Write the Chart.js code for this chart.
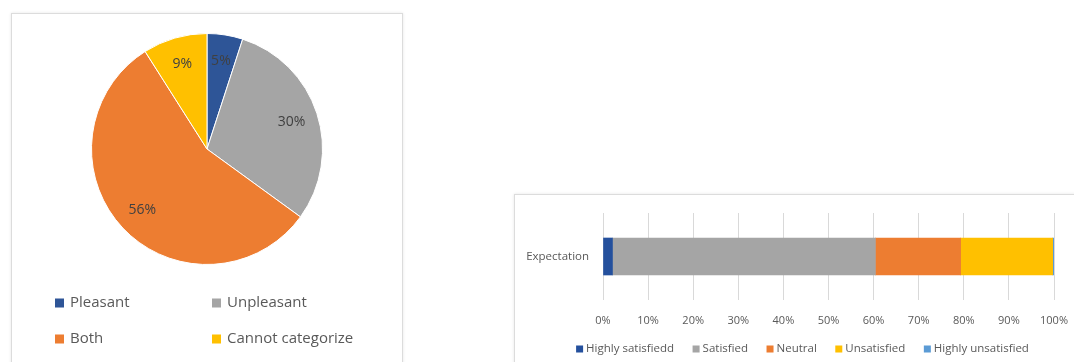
<!DOCTYPE html>
<html>
<head>
<meta charset="utf-8">
<script src="https://cdn.jsdelivr.net/npm/chart.js@4/dist/chart.umd.min.js"></script>
<style>
  html, body { margin: 0; padding: 0; background: #fff; overflow: hidden; width: 1074px; height: 362px; }
  .panel { position: absolute; background: #fff; border: 1px solid #dcdcdc; box-shadow: 0 0 3px rgba(0,0,0,0.10); }
  #pieBox { left: 11px; top: 13px; width: 390px; height: 360px; }
  #barBox { left: 514px; top: 194px; width: 600px; height: 200px; }
  canvas { position: absolute; }
</style>
</head>
<body>
<div class="panel" id="pieBox"></div>
<div class="panel" id="barBox"></div>
<canvas id="pie" width="390" height="348" style="left:12px;top:14px;width:390px;height:348px"></canvas>
<canvas id="bar" width="575" height="170" style="left:515px;top:195px;width:575px;height:170px"></canvas>
<script>
// Mood categories and their shares (%)
const moodLabels = ['Pleasant', 'Unpleasant', 'Both', 'Cannot categorize'];
const moodValues = [5, 30, 56, 9];
const moodColors = ['#2E5597', '#A5A5A5', '#ED7D31', '#FFC000'];

// Satisfaction versus expectation (%)
const rowLabels = ['Expectation'];
const highlySatisfied = [2.1];
const satisfied = [58.3];
const neutral = [18.9];
const unsatisfied = [20.4];
const highlyUnsatisfied = [0.3];
const xTicks = [0, 10, 20, 30, 40, 50, 60, 70, 80, 90, 100];

const FONT = '"Open Sans", "Noto Sans", sans-serif';
const TEXT = '#595959';

// Percentage labels placed inside each slice
const sliceLabels = {
  id: 'sliceLabels',
  afterDatasetsDraw(chart) {
    const ctx = chart.ctx;
    const meta = chart.getDatasetMeta(0);
    ctx.save();
    ctx.font = '14px ' + FONT;
    ctx.fillStyle = '#404040';
    ctx.textAlign = 'center';
    ctx.textBaseline = 'middle';
    meta.data.forEach((arc, i) => {
      const mid = (arc.startAngle + arc.endAngle) / 2;
      const r = arc.outerRadius * 0.77;
      ctx.fillText(chart.data.datasets[0].data[i] + '%', arc.x + Math.cos(mid) * r, arc.y + Math.sin(mid) * r);
    });
    ctx.restore();
  }
};

// Two-column legend under the pie
const gridLegend = {
  id: 'gridLegend',
  afterDraw(chart) {
    const ctx = chart.ctx;
    const labels = chart.data.labels;
    const colors = chart.data.datasets[0].backgroundColor;
    const colX = [43, 200];
    const rowY = [289, 325];
    ctx.save();
    ctx.font = '15px ' + FONT;
    ctx.textBaseline = 'middle';
    labels.forEach((lab, i) => {
      const x = colX[i % 2];
      const y = rowY[Math.floor(i / 2)];
      ctx.fillStyle = colors[i];
      ctx.fillRect(x, y - 4.5, 9, 9);
      ctx.fillStyle = TEXT;
      ctx.fillText(lab, x + 15, y);
    });
    ctx.restore();
  }
};

new Chart(document.getElementById('pie'), {
  type: 'pie',
  data: {
    labels: moodLabels,
    datasets: [{ data: moodValues, backgroundColor: moodColors, borderColor: '#ffffff', borderWidth: 1 }]
  },
  options: {
    responsive: false,
    animation: false,
    layout: { padding: { top: 19, bottom: 97 } },
    plugins: { legend: { display: false }, tooltip: { enabled: false } }
  },
  plugins: [sliceLabels, gridLegend]
});

const barSeries = [
  ['Highly satisfiedd', highlySatisfied, '#24509D'],
  ['Satisfied', satisfied, '#A5A5A5'],
  ['Neutral', neutral, '#ED7D31'],
  ['Unsatisfied', unsatisfied, '#FFC000'],
  ['Highly unsatisfied', highlyUnsatisfied, '#5B9BD5']
];

// Single-row legend below the axis: small square, tight gap, then the series name
const rowLegend = {
  id: 'rowLegend',
  afterDraw(chart) {
    const ctx = chart.ctx;
    const box = 7, gap = 3, spacing = 18.5;
    ctx.save();
    ctx.font = '11.5px ' + FONT;
    ctx.textBaseline = 'middle';
    const items = chart.data.datasets.map(ds => ({ text: ds.label, color: ds.backgroundColor, w: ctx.measureText(ds.label).width }));
    const total = items.reduce((s, it) => s + box + gap + it.w, 0) + spacing * (items.length - 1);
    let x = (chart.width - total) / 2;
    const y = 154;
    items.forEach(it => {
      ctx.fillStyle = it.color;
      ctx.fillRect(x, y - box / 2, box, box);
      ctx.fillStyle = TEXT;
      ctx.fillText(it.text, x + box + gap, y);
      x += box + gap + it.w + spacing;
    });
    ctx.restore();
  }
};

new Chart(document.getElementById('bar'), {
  type: 'bar',
  data: {
    labels: rowLabels,
    datasets: barSeries.map(([label, data, color]) => ({
      label, data, backgroundColor: color, borderWidth: 0, barThickness: 37
    }))
  },
  options: {
    indexAxis: 'y',
    responsive: false,
    animation: false,
    layout: { padding: { top: 18, left: 0, right: 36, bottom: 36 } },
    scales: {
      x: {
        stacked: true,
        min: 0, max: 100,
        afterBuildTicks(axis) { axis.ticks = xTicks.map(v => ({ value: v })); },
        afterFit(axis) { axis.height = 29; },
        ticks: { callback: v => v + '%', color: TEXT, font: { family: FONT, size: 11 }, padding: 14, maxRotation: 0 },
        grid: { color: '#D9D9D9', drawTicks: false },
        border: { display: false }
      },
      y: {
        stacked: true,
        afterFit(axis) { axis.width = 88; axis.paddingTop = 0; axis.paddingBottom = 0; },
        ticks: { color: TEXT, font: { family: FONT, size: 11.5 }, padding: 14 },
        grid: { display: false, drawTicks: false },
        border: { display: false }
      }
    },
    plugins: {
      tooltip: { enabled: false },
      legend: { display: false }
    }
  },
  plugins: [rowLegend]
});
</script>
</body>
</html>
